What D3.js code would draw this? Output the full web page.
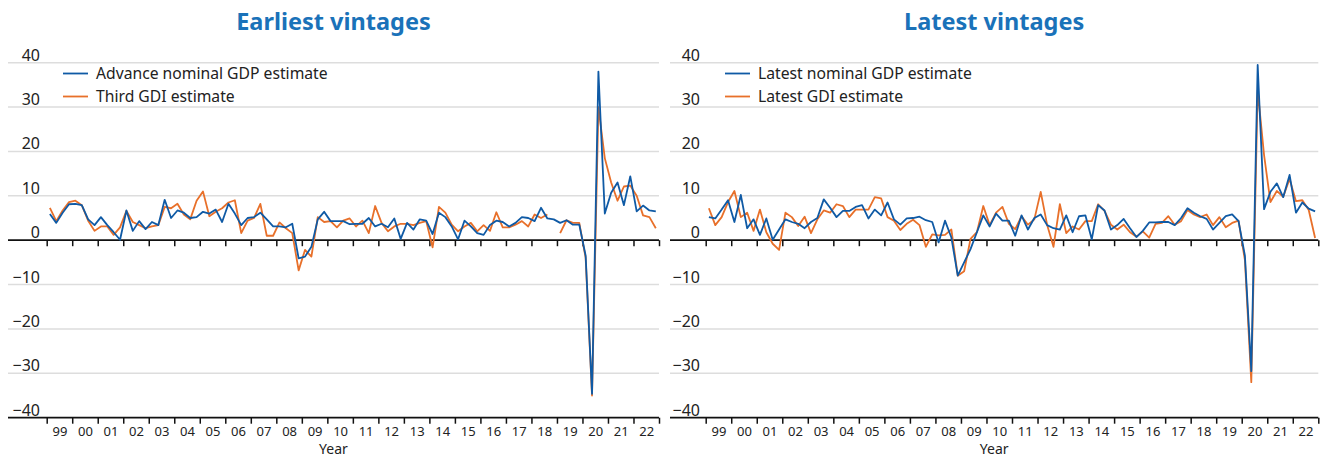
<!DOCTYPE html>
<html>
<head>
<meta charset="utf-8">
<script src="https://cdn.jsdelivr.net/npm/d3@7"></script>
<style>
  body { margin: 0; background: #fff; }
  svg { display: block; font-family: "Noto Sans", sans-serif; }
</style>
</head>
<body>
<svg id="chart" width="1322" height="458"></svg>
<script>
// quarterly annualized growth, 1999Q1 .. 2022Q4
var yearLabels = ["99","00","01","02","03","04","05","06","07","08","09","10",
                  "11","12","13","14","15","16","17","18","19","20","21","22"]
var firstYear = 1999
var yTicks = [-40, -30, -20, -10, 0, 10, 20, 30, 40]

var advanceGDP = [5.9,3.9,6.2,8.1, 8.2,7.9,4.7,3.4, 5.2,3.4,1.8,0.1, 6.7,2.1,4.3,2.5,
    4.1,3.4,9.1,5.0, 6.7,6.2,5.0,5.2, 6.4,6.0,6.9,4.1, 8.2,6.0,3.4,5.0,
    5.2,6.2,4.7,3.1, 3.1,2.9,3.7,-4.1, -3.7,-1.5,4.7,6.4, 4.3,4.3,4.3,3.6,
    3.7,3.7,5.0,3.1, 3.7,2.9,4.9,0.3, 3.9,2.4,4.7,4.4, 1.4,6.2,5.2,3.1,
    0.2,4.4,3.1,1.6, 1.2,3.4,4.4,4.1, 3.1,3.9,5.2,5.0, 4.3,7.3,4.9,4.7,
    3.9,4.5,3.5,3.5, -3.5,-34.6,38.0,6.0, 10.7,13.0,7.9,14.4, 6.5,7.8,6.7,6.5]

var thirdGDI = [7.3,4.3,6.7,8.6, 8.9,7.9,4.4,2.1, 3.1,3.1,1.2,2.9, 6.6,4.1,3.4,2.7,
    3.1,3.4,7.5,7.2, 8.2,5.8,4.7,8.9, 11.0,5.4,6.4,7.2, 8.5,9.0,1.6,4.4,
    5.0,8.2,1.0,1.0, 4.0,2.7,1.6,-6.8, -2.2,-3.7,5.2,4.1, 4.3,2.9,4.4,4.9,
    3.1,4.4,1.6,7.7, 3.9,2.0,3.1,3.7, 3.7,3.4,3.9,4.3, -1.6,7.5,6.2,3.5,
    2.0,3.1,3.9,2.0, 3.4,2.1,6.3,2.9, 2.9,3.5,4.3,3.1, 5.8,5.0,5.8,null,
    1.6,4.5,3.9,3.9, -4.0,-35.0,30.0,18.5, 13.0,8.9,12.1,12.3, 10.0,5.6,5.2,2.7]

var latestGDP = [5.2,4.9,6.9,9.0, 4.1,10.2,2.7,4.7, 1.2,4.9,0.1,2.4, 4.7,4.1,3.7,2.7,
    4.1,5.0,9.2,7.3, 5.2,6.6,6.6,7.5, 7.9,4.9,6.9,5.6, 8.5,4.7,3.5,4.9,
    5.0,5.3,4.5,4.1, -0.5,4.4,0.6,-8.0, -5.0,-2.0,1.8,5.6, 3.1,6.0,4.4,4.4,
    1.0,5.6,2.4,5.0, 5.8,3.4,2.7,2.4, 5.6,1.8,5.4,5.6, 0.2,7.9,6.7,2.4,
    3.4,4.8,2.7,0.7, 2.1,4.0,4.0,4.1, 4.1,3.4,5.0,7.2, 6.2,5.4,4.8,2.4,
    3.9,5.4,5.8,4.3, -3.5,-29.5,39.5,7.0, 10.9,12.8,9.7,14.7, 6.2,8.5,7.1,6.5]

var latestGDI = [7.2,3.4,5.2,8.6, 11.1,5.2,6.2,2.1, 6.9,1.8,-0.8,-2.2, 6.2,5.2,3.2,5.3,
    1.6,4.7,6.7,6.2, 8.1,7.7,5.2,6.9, 6.9,6.9,9.7,9.4, 5.2,4.4,2.3,3.7,
    4.6,3.4,-1.5,1.3, 1.1,1.2,2.4,-8.0, -7.0,0.3,1.8,7.7, 3.4,6.2,7.5,3.7,
    2.5,5.4,3.5,4.7, 10.9,3.5,-1.5,8.1, 1.6,3.1,2.4,4.3, 4.3,8.1,6.6,3.5,
    2.4,3.5,1.8,0.8, 2.0,0.6,3.7,3.9, 5.4,3.5,4.3,6.8, 5.8,5.2,5.8,3.4,
    5.2,2.9,3.9,4.4, -4.5,-32.0,33.8,19.2, 8.6,11.1,9.8,13.8, 8.8,9.0,6.8,0.5]

var blue = "#0f5aa5"
var orange = "#e8702a"

var panels = [
    { title: "Earliest vintages", left: 8, x0: 46.7, x1: 659, labelRight: 40,
      series: [ { name: "Advance nominal GDP estimate", values: advanceGDP, color: blue },
                { name: "Third GDI estimate", values: thirdGDI, color: orange } ] },
    { title: "Latest vintages", left: 670, x0: 705.7, x1: 1318.3, labelRight: 700,
      series: [ { name: "Latest nominal GDP estimate", values: latestGDP, color: blue },
                { name: "Latest GDI estimate", values: latestGDI, color: orange } ] }
]

var svg = d3.select("#chart")
var y = d3.scaleLinear().domain([-40, 40]).range([417.7, 62.7])
var lastYear = firstYear + yearLabels.length

panels.forEach(function(p){
    var g = svg.append("g")
    var x = d3.scaleLinear().domain([firstYear, lastYear]).range([p.x0, p.x1])

    g.append("text")
        .attr("x", (p.left + p.x1) / 2)
        .attr("y", 30)
        .attr("text-anchor", "middle")
        .attr("font-size", 23.5)
        .attr("font-weight", "bold")
        .attr("fill", "#1a72b9")
        .text(p.title)

    // gridlines
    g.selectAll("line.grid")
        .data(yTicks.filter(function(d){ return d !== 0 && d !== -40 }))
        .enter().append("line")
        .attr("class", "grid")
        .attr("x1", p.left).attr("x2", p.x1)
        .attr("y1", function(d){ return y(d) }).attr("y2", function(d){ return y(d) })
        .attr("stroke", "#dddddd").attr("stroke-width", 1.5)

    g.selectAll("text.ylab")
        .data(yTicks)
        .enter().append("text")
        .attr("class", "ylab")
        .attr("x", p.labelRight)
        .attr("y", function(d){ return y(d) - 2 })
        .attr("text-anchor", "end")
        .attr("font-size", 16)
        .attr("fill", "#222")
        .text(function(d){ return d < 0 ? "\u2212" + Math.abs(d) : d })

    var yearStarts = d3.range(firstYear, lastYear + 1)
    var tickAxis = d3.axisBottom(x).tickValues(yearStarts).tickSize(6).tickFormat("")

    // zero line and bottom axis, both with year ticks
    ;[0, -40].forEach(function(v){
        var a = g.append("g").attr("transform", "translate(0," + y(v) + ")").call(tickAxis)
        a.select(".domain").remove()
        a.selectAll(".tick line").attr("stroke", "#111").attr("stroke-width", 1.5)
        a.append("line")
            .attr("x1", p.left).attr("x2", p.x1)
            .attr("stroke", "#111").attr("stroke-width", 1.8)
    })

    var labelAxis = d3.axisBottom(x)
        .tickValues(yearLabels.map(function(d, i){ return firstYear + i + 0.5 }))
        .tickSize(0)
        .tickFormat(function(d, i){ return yearLabels[i] })
    var la = g.append("g").attr("transform", "translate(0," + (y(-40) + 6) + ")").call(labelAxis)
    la.select(".domain").remove()
    la.selectAll("text").attr("font-size", 13).attr("font-family", "Noto Sans, sans-serif").attr("fill", "#222")

    g.append("text")
        .attr("x", (p.left + p.x1) / 2)
        .attr("y", 454)
        .attr("text-anchor", "middle")
        .attr("font-size", 14)
        .attr("fill", "#222")
        .text("Year")

    var line = d3.line()
        .defined(function(d){ return d != null })
        .x(function(d, i){ return x(firstYear + (i + 0.5) / 4) })
        .y(function(d){ return y(d) })

    p.series.slice().reverse().forEach(function(s){
        g.append("path")
            .datum(s.values)
            .attr("fill", "none")
            .attr("stroke", s.color)
            .attr("stroke-width", 1.8)
            .attr("stroke-linejoin", "round")
            .attr("d", line)
    })

    // legend
    var lg = g.selectAll("g.legend")
        .data(p.series)
        .enter().append("g")
        .attr("class", "legend")
        .attr("transform", function(d, i){ return "translate(" + (p.left + 55) + "," + (73.5 + i * 23) + ")" })
    lg.append("line").attr("x1", 0).attr("x2", 25)
        .attr("stroke", function(d){ return d.color }).attr("stroke-width", 1.8)
    lg.append("text").attr("x", 33).attr("y", 5.5)
        .attr("font-size", 15.7).attr("fill", "#222")
        .text(function(d){ return d.name })
})
</script>
</body>
</html>
